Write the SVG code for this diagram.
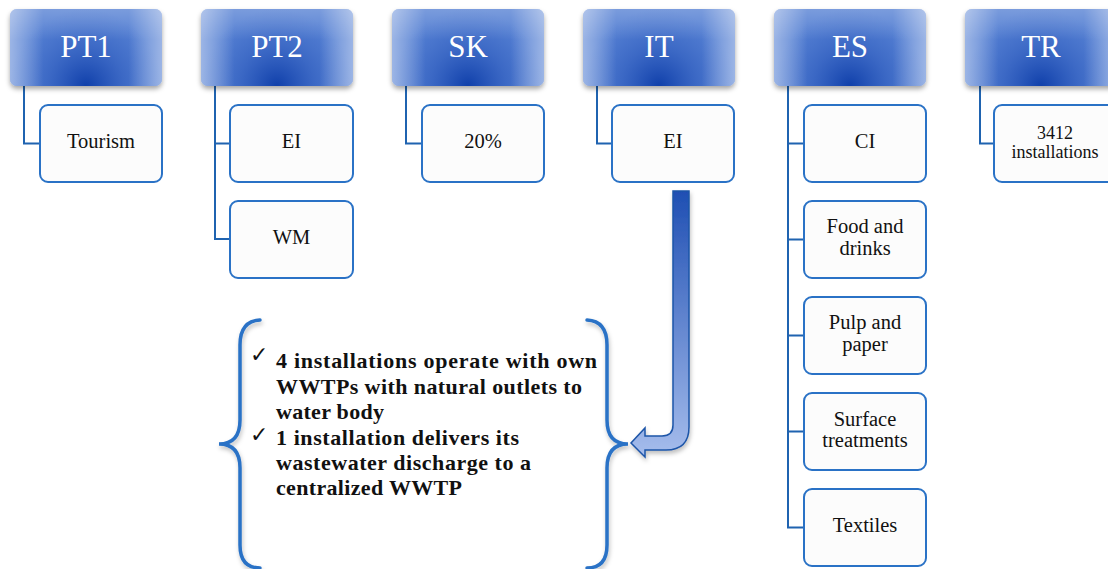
<svg xmlns="http://www.w3.org/2000/svg" width="1108" height="569" viewBox="0 0 1108 569">
<defs>
<radialGradient id="hd" cx="0.5" cy="1" r="1" fx="0.5" fy="1" gradientTransform="translate(0.5 1) scale(0.5 1) translate(-0.5 -1)">
<stop offset="0" stop-color="#0c3ca8" stop-opacity="0.95"/>
<stop offset="0.5" stop-color="#1d4cb4" stop-opacity="0.45"/>
<stop offset="1" stop-color="#2a58bc" stop-opacity="0"/>
</radialGradient>
<linearGradient id="hs" x1="0" y1="0" x2="1" y2="0">
<stop offset="0" stop-color="#fff" stop-opacity="0.42"/>
<stop offset="0.22" stop-color="#fff" stop-opacity="0"/>
<stop offset="0.78" stop-color="#fff" stop-opacity="0"/>
<stop offset="1" stop-color="#fff" stop-opacity="0.42"/>
</linearGradient>
<linearGradient id="ht" x1="0" y1="0" x2="0" y2="1">
<stop offset="0" stop-color="#fff" stop-opacity="0.22"/>
<stop offset="0.4" stop-color="#fff" stop-opacity="0"/>
</linearGradient>
<linearGradient id="ag" x1="0" y1="0" x2="0" y2="1">
<stop offset="0" stop-color="#1f4fb3"/>
<stop offset="1" stop-color="#a6bdec"/>
</linearGradient>
<filter id="sh" x="-10%" y="-10%" width="120%" height="130%">
<feDropShadow dx="0" dy="3" stdDeviation="2.5" flood-color="#000" flood-opacity="0.35"/>
</filter>
<filter id="sh2" x="-20%" y="-10%" width="140%" height="120%">
<feDropShadow dx="1" dy="3" stdDeviation="2" flood-color="#000" flood-opacity="0.25"/>
</filter>
<g id="hb">
<rect width="152" height="77" rx="7" fill="#5580d3" filter="url(#sh)"/>
<rect width="152" height="77" rx="7" fill="url(#hd)"/>
<rect width="152" height="77" rx="7" fill="url(#hs)"/>
<rect width="152" height="77" rx="7" fill="url(#ht)"/>
</g>
</defs>
<style>
.ht{font-family:"Liberation Serif",serif;font-size:31px;fill:#fff;text-anchor:middle}
.cb{fill:#fcfcfc;stroke:#2a72c6;stroke-width:2}
.ct{font-family:"Liberation Serif",serif;font-size:20.5px;fill:#111;text-anchor:middle}
.cs{font-family:"Liberation Serif",serif;font-size:18px;fill:#111;text-anchor:middle}
.ln{fill:none;stroke:#1f63b0;stroke-width:2}
.br{fill:none;stroke:#2a72c6;stroke-width:3.5;stroke-linecap:round;filter:url(#sh2)}
.bt{font-family:"Liberation Serif",serif;font-size:22px;font-weight:bold;fill:#111}
.ck{font-family:"DejaVu Sans",sans-serif;font-size:22px;fill:#111}
</style>
<rect width="1108" height="569" fill="#fff"/>
<g id="connectors">
<path class="ln" d="M24 86 V143.5 H40"/>
<path class="ln" d="M215 86 V239 H230 M215 143.5 H230"/>
<path class="ln" d="M406 86 V143.5 H422"/>
<path class="ln" d="M597 86 V143.5 H612"/>
<path class="ln" d="M788 86 V527.5 H804 M788 143.5 H804 M788 239.5 H804 M788 335.5 H804 M788 431.5 H804"/>
<path class="ln" d="M980 86 V143.5 H994"/>
<path d="M673 191 H689 V427 Q689 450 666 450 H645 V457 L631 443 L645 428 V436 H662 Q673 436 673 425 Z" fill="url(#ag)" stroke="#1d55a8" stroke-width="1.5" filter="url(#sh2)"/>
</g>
<g id="PT1">
<use href="#hb" x="10" y="9"/>
<text class="ht" x="86" y="57">PT1</text>
</g>
<g id="Tourism">
<rect class="cb" x="40" y="105" width="122" height="77" rx="8"/>
<text class="ct" x="101" y="148">Tourism</text>
</g>
<g id="PT2">
<use href="#hb" x="201" y="9"/>
<text class="ht" x="277" y="57">PT2</text>
</g>
<g id="PT2-EI">
<rect class="cb" x="230" y="105" width="123" height="77" rx="8"/>
<text class="ct" x="291.5" y="148">EI</text>
</g>
<g id="PT2-WM">
<rect class="cb" x="230" y="201" width="123" height="77" rx="8"/>
<text class="ct" x="291.5" y="244">WM</text>
</g>
<g id="SK">
<use href="#hb" x="392" y="9"/>
<text class="ht" x="468" y="57">SK</text>
</g>
<g id="SK-20">
<rect class="cb" x="422" y="105" width="122" height="77" rx="8"/>
<text class="ct" x="483" y="148">20%</text>
</g>
<g id="IT">
<use href="#hb" x="583" y="9"/>
<text class="ht" x="659" y="57">IT</text>
</g>
<g id="IT-EI">
<rect class="cb" x="612" y="105" width="122" height="77" rx="8"/>
<text class="ct" x="673" y="148">EI</text>
</g>
<g id="ES">
<use href="#hb" x="774" y="9"/>
<text class="ht" x="850" y="57">ES</text>
</g>
<g id="ES-CI">
<rect class="cb" x="804" y="105" width="122" height="77" rx="8"/>
<text class="ct" x="865" y="148">CI</text>
</g>
<g id="ES-Food">
<rect class="cb" x="804" y="201" width="122" height="77" rx="8"/>
<text class="ct" x="865" y="233">Food and</text>
<text class="ct" x="865" y="255">drinks</text>
</g>
<g id="ES-Pulp">
<rect class="cb" x="804" y="297" width="122" height="77" rx="8"/>
<text class="ct" x="865" y="329">Pulp and</text>
<text class="ct" x="865" y="351">paper</text>
</g>
<g id="ES-Surface">
<rect class="cb" x="804" y="393" width="122" height="77" rx="8"/>
<text class="ct" x="865" y="426">Surface</text>
<text class="ct" x="865" y="447">treatments</text>
</g>
<g id="ES-Textiles">
<rect class="cb" x="804" y="489" width="122" height="77" rx="8"/>
<text class="ct" x="865" y="532">Textiles</text>
</g>
<g id="TR">
<use href="#hb" x="965" y="9"/>
<text class="ht" x="1041" y="57">TR</text>
</g>
<g id="TR-3412">
<rect class="cb" x="994" y="105" width="122" height="77" rx="8"/>
<text class="cs" x="1055" y="139">3412</text>
<text class="cs" x="1055" y="158">installations</text>
</g>
<g id="IT-details">
<path class="br" d="M260 320 Q240 321 240 345 V420 Q240 444 219 444 Q240 444 240 468 V545 Q240 568 260 568"/>
<path class="br" d="M587 320 Q607 321 607 345 V420 Q607 444 628 444 Q607 444 607 468 V545 Q607 568 587 568"/>
<text class="ck" x="250" y="362">✓</text>
<text class="ck" x="250" y="442">✓</text>
<text class="bt" x="276" y="368" textLength="321" lengthAdjust="spacing">4 installations operate with own</text>
<text class="bt" x="276" y="393.5" textLength="306" lengthAdjust="spacing">WWTPs with natural outlets to</text>
<text class="bt" x="276" y="419" textLength="108" lengthAdjust="spacing">water body</text>
<text class="bt" x="276" y="444.5" textLength="243" lengthAdjust="spacing">1 installation delivers its</text>
<text class="bt" x="276" y="470" textLength="255" lengthAdjust="spacing">wastewater discharge to a</text>
<text class="bt" x="276" y="495" textLength="186" lengthAdjust="spacing">centralized WWTP</text>
</g>
</svg>
